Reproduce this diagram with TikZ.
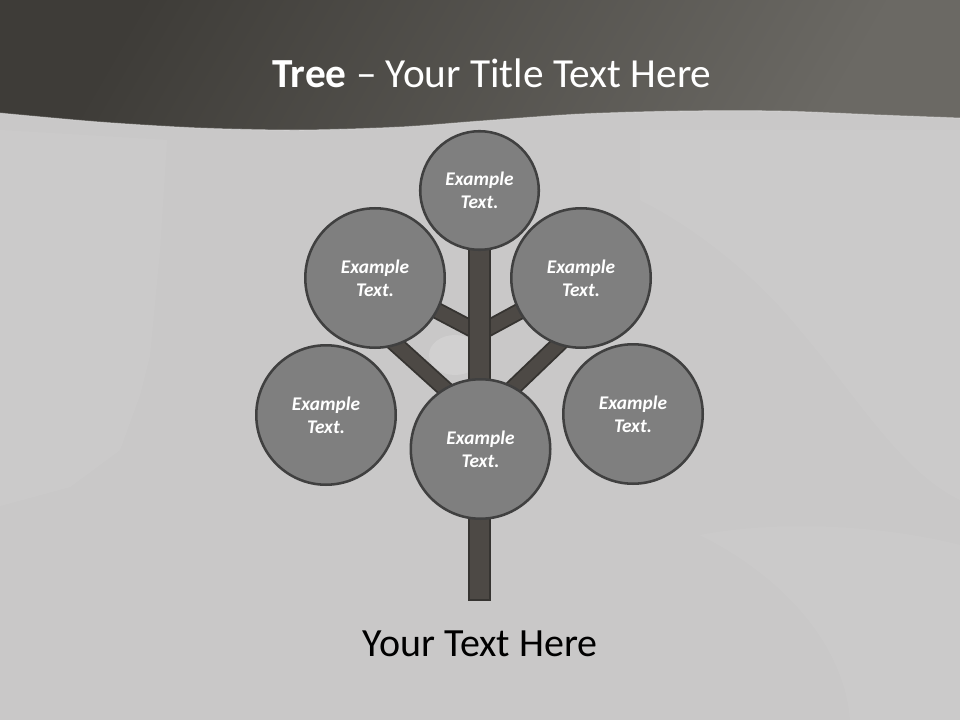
\documentclass[tikz,border=0pt]{standalone}
\usepackage{fontspec}
\setmainfont{Carlito}
\usetikzlibrary{calc}
\pgfdeclarelayer{back}
\pgfsetlayers{back,main}
\definecolor{bandDark}{HTML}{3E3C38}
\definecolor{bandLight}{HTML}{6B6964}
\definecolor{slideBg}{HTML}{C9C8C8}
\definecolor{leafFill}{HTML}{7F7F7F}
\definecolor{leafEdge}{HTML}{404040}
\definecolor{barkFill}{HTML}{4D4945}
\definecolor{barkEdge}{HTML}{363431}
\begin{document}
\begin{tikzpicture}[x=0.75pt,y=-0.75pt,
	leaf/.style={circle,draw=leafEdge,line width=1.9pt,fill=leafFill,minimum size=104.6pt,inner sep=0pt,
		text=white,align=center,font=\fontsize{14.5}{17}\selectfont\bfseries\itshape},
	smallleaf/.style={leaf,minimum size=88.9pt},
	branch/.style={draw=barkEdge,line width=1.4pt,double=barkFill,double distance=10pt},
	trunk/.style={draw=barkEdge,line width=1.5pt,fill=barkFill}]
	\useasboundingbox (0,0) rectangle (960,720);
	
	\node[smallleaf] (top) at (479.5,190.5) {Example\\Text.};
	\node[leaf] (upl) at (375,278) {Example\\Text.};
	\node[leaf] (upr) at (581,278) {Example\\Text.};
	\node[leaf] (lowl) at (326,415) {Example\\Text.};
	\node[leaf] (lowr) at (633,414) {Example\\Text.};
	\node[leaf] (mid) at (480.5,449) {Example\\Text.};
	
	\coordinate (fork1) at (479.5,333);
	\coordinate (fork2) at (479.5,420);
	\coordinate (root) at (479.5,600);
	
	\node[anchor=base,text=white,font=\fontsize{31}{37}\selectfont] (title) at (492,88) {\textbf{Tree} -- Your Title Text Here};
	\node[anchor=base,text=black,font=\fontsize{30}{36}\selectfont] (caption) at (480,656) {Your Text Here};
	
	\begin{pgfonlayer}{back}
		\fill[slideBg] (0,0) rectangle (960,720);
		\fill[white,opacity=0.05] (0,130) -- (167,140) -- (160,250) -- (150,355) -- (140,395) -- (120,450) -- (70,487) -- (0,506) -- cycle;
		\fill[white,opacity=0.05] (640,130) -- (960,130) -- (960,500) .. controls (900,470) and (860,400) .. (800,330) .. controls (760,280) and (700,230) .. (640,200) -- cycle;
		\fill[white,opacity=0.05] (700,535) .. controls (780,520) and (880,525) .. (960,545) -- (960,720) -- (850,720) .. controls (845,650) and (790,580) .. (700,535) -- cycle;
		\fill[white,opacity=0.15] (455,355) ellipse (26 and 20);
		
		\shade[top color=bandDark,bottom color=bandLight,shading angle=60] (0,0) -- (960,0)
			-- plot[smooth] coordinates {(960,118) (880,115) (780,111) (680,111) (580,114) (480,121) (400,127) (300,130) (200,128) (100,122) (0,113)} -- cycle;
		\draw[white,opacity=0.3,line width=0.8pt] plot[smooth] coordinates {(960,118) (880,115) (780,111) (680,111) (580,114) (480,121) (400,127) (300,130) (200,128) (100,122) (0,113)};
		
		\draw[branch] (fork1) -- (upl.center);
		\draw[branch] (fork1) -- (upr.center);
		\draw[branch] (fork2) -- ($(upl.center)!0.67!(upl.south)$);
		\draw[branch] (fork2) -- ($(upr.center)!0.63!(upr.south)$);
		\draw[trunk] ([xshift=-7.9pt]root) rectangle ([xshift=7.9pt]top.center);
	\end{pgfonlayer}
\end{tikzpicture}
\end{document}
